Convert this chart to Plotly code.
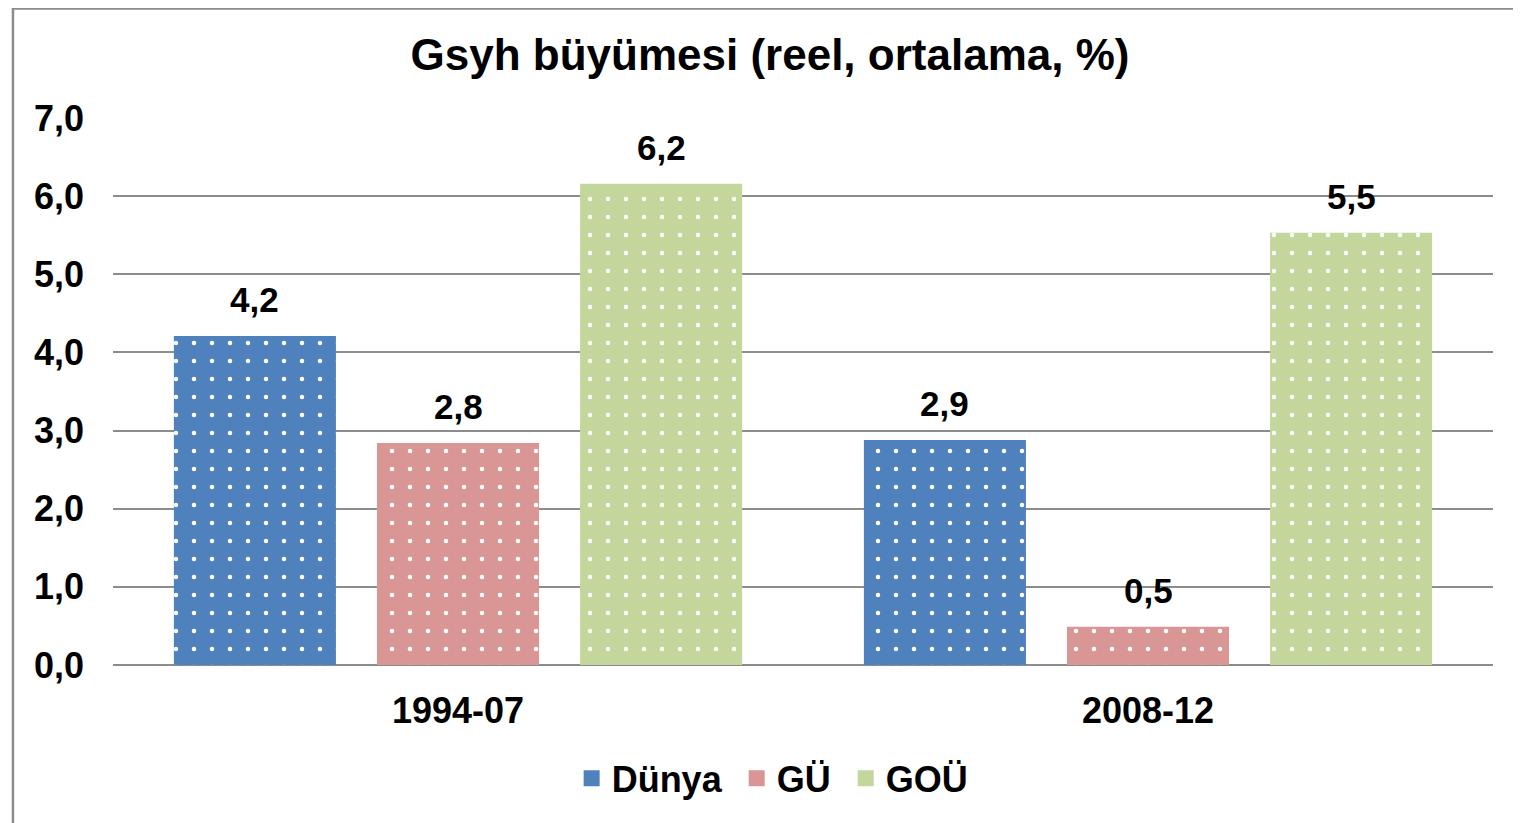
import plotly.graph_objects as go

periods = ["1994-07", "2008-12"]
series_names = ["Dünya", "GÜ", "GOÜ"]
dunya = [4.21, 2.88]
gu = [2.84, 0.49]
gou = [6.16, 5.53]
colors = ["#4F81BD", "#D99694", "#C3D69B"]
y_ticks = [0, 1, 2, 3, 4, 5, 6, 7]

FONT = "Liberation Sans, Arial, sans-serif"
BARGAP = 0.117
fig = go.Figure()
all_vals = [dunya, gu, gou]
for name, vals, col in zip(series_names, all_vals, colors):
    fig.add_trace(go.Bar(
        name=name, x=periods, y=vals, showlegend=False,
        marker=dict(color=col, line=dict(width=0),
                    pattern=dict(shape=".", fgcolor="white", bgcolor=col,
                                 size=18, solidity=0.05, fillmode="replace")),
    ))
# legend entries (square swatches)
n = len(series_names)
for j, (name, col) in enumerate(zip(series_names, colors)):
    label = name + ("\u00a0" if j < n - 1 else "")
    fig.add_trace(go.Scatter(
        name=label, x=[None], y=[None], mode="markers",
        marker=dict(symbol="square", size=16, color=col, line=dict(width=0)),
    ))

slot = (1 - BARGAP) / 3
for k, vals in enumerate(all_vals):
    for i, v in enumerate(vals):
        fig.add_annotation(x=i + (k - 1) * slot, y=v, xref="x", yref="y",
                           text=f"{v:.1f}".replace(".", ","), showarrow=False,
                           yanchor="bottom", yshift=15,
                           font=dict(family=FONT, size=35, color="black", weight="bold"))

fig.add_shape(type="rect", xref="paper", yref="paper",
              x0=-0.0725, x1=1.05, y0=-0.4, y1=1.2,
              line=dict(color="#8c8c8c", width=2.5), layer="above")

fig.update_layout(
    width=1521, height=823,
    margin=dict(l=105, r=36, t=110, b=166),
    paper_bgcolor="white", plot_bgcolor="white",
    separators=",.",
    barmode="group", bargap=BARGAP, bargroupgap=0.202,
    title=dict(text="Gsyh büyümesi (reel, ortalama, %)", x=0.501, xanchor="center",
               y=0.943, yanchor="middle", xref="container",
               font=dict(family=FONT, size=44, color="black", weight="bold")),
    font=dict(family=FONT, color="black"),
    legend=dict(orientation="h", x=0.478, xanchor="center", y=-0.207, yanchor="middle",
                font=dict(family=FONT, size=36, color="black", weight="bold"),
                itemwidth=30, traceorder="normal"),
    showlegend=True,
)
fig.update_yaxes(range=[0, 7], tickvals=y_ticks, tickformat=".1f", automargin=False,
                 showgrid=True, gridcolor="#8c8c8c", gridwidth=1.5,
                 zeroline=True, zerolinecolor="#8c8c8c", zerolinewidth=1.5,
                 ticks="", ticklabelstandoff=28,
                 tickfont=dict(family=FONT, size=36, color="black", weight="bold"))
fig.update_xaxes(type="category", showline=False, ticks="", ticklabelstandoff=21,
                 automargin=False,
                 tickfont=dict(family=FONT, size=36, color="black", weight="bold"))

fig.write_html("out.html")
